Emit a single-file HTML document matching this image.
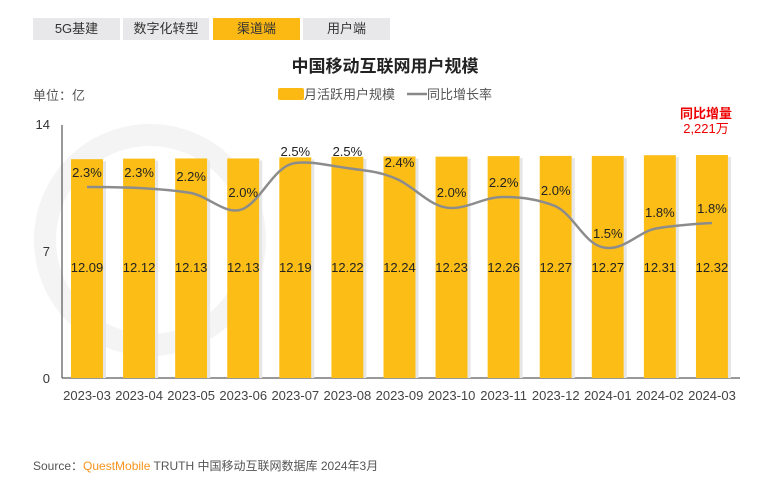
<!DOCTYPE html>
<html><head><meta charset="utf-8"><style>
body{margin:0;background:#fff;width:770px;height:481px;overflow:hidden;font-family:"Liberation Sans","Noto Sans CJK SC",sans-serif;}
.tab{position:absolute;top:18px;height:22px;background:#e8e8ea;font-size:13px;color:#333;text-align:center;line-height:22px;}
</style></head><body>
<div class="tab" style="left:33px;width:87px">5G基建</div>
<div class="tab" style="left:123px;width:86px">数字化转型</div>
<div class="tab" style="left:213px;width:87px;background:#fcb914">渠道端</div>
<div class="tab" style="left:303px;width:87px">用户端</div>
<svg width="770" height="481" style="position:absolute;left:0;top:0" font-family="Liberation Sans, Noto Sans CJK SC, sans-serif">
<circle cx="150" cy="240" r="105" fill="none" stroke="#f4f4f4" stroke-width="22"/>
<text x="385" y="72" font-size="17" text-anchor="middle" fill="#222" font-weight="bold">中国移动互联网用户规模</text>
<text x="33" y="100" font-size="13" fill="#555">单位：亿</text>
<rect x="278" y="88" width="26" height="12" rx="2" fill="#fcb914"/>
<text x="304" y="99" font-size="13" fill="#555">月活跃用户规模</text>
<line x1="407" y1="94" x2="427" y2="94" stroke="#888" stroke-width="2.5"/>
<text x="427" y="99" font-size="13" fill="#555">同比增长率</text>
<text x="706" y="118" font-size="13" fill="#e00" text-anchor="middle" font-weight="bold">同比增量</text>
<text x="706" y="133" font-size="13" fill="#e00" text-anchor="middle">2,221万</text>
<g font-size="13" fill="#333" text-anchor="end">
<text x="50" y="129">14</text><text x="50" y="256">7</text><text x="50" y="383">0</text></g>
<line x1="62" y1="125" x2="62" y2="378" stroke="#333"/>
<line x1="62" y1="378" x2="740" y2="378" stroke="#333"/>
<g id="bars"></g>
<path d="M87,187 C104,187 118,187 139,188 C157,189 173,190 191,193 C210,197 226,216 243,209 C262,200 274,166 295,163 C313,161 330,166 347,168 C366,171 380,171 399,180 C418,190 432,208 451,208 C470,208 484,197 503,197 C521,197 537,199 555,206 C575,215 585,247 607,248 C627,249 640,230 659,228 C678,225 696,224 712,223" fill="none" stroke="#8c8c8c" stroke-width="2.5"/>
<g font-size="13" fill="#222" text-anchor="middle" id="lbl"></g>
<text x="33" y="470" font-size="12" fill="#555">Source：<tspan fill="#f7941d">QuestMobile</tspan> TRUTH 中国移动互联网数据库 2024年3月</text>
</svg>
<script>
var v=[12.09,12.12,12.13,12.13,12.19,12.22,12.24,12.23,12.26,12.27,12.27,12.31,12.32];
var p=["2.3%","2.3%","2.2%","2.0%","2.5%","2.5%","2.4%","2.0%","2.2%","2.0%","1.5%","1.8%","1.8%"];
var py=[177,177,181,197,156,156,167,197,187,195,238,217,213];
var m=["2023-03","2023-04","2023-05","2023-06","2023-07","2023-08","2023-09","2023-10","2023-11","2023-12","2024-01","2024-02","2024-03"];
var b="",l="";
for(var i=0;i<13;i++){var cx=87+i*52.08,h=v[i]*18.1;
b+='<rect x="'+(cx-16)+'" y="'+(378-h)+'" width="32" height="'+h+'" fill="#fcbe16"/><rect x="'+(cx+16)+'" y="'+(378-h+2)+'" width="3" height="'+(h-2)+'" fill="#e6e6e6"/>';
l+='<text x="'+cx+'" y="272">'+v[i].toFixed(2)+'</text><text x="'+cx+'" y="'+py[i]+'">'+p[i]+'</text><text x="'+cx+'" y="400" fill="#444">'+m[i]+'</text>';}
document.getElementById("bars").innerHTML=b;document.getElementById("lbl").innerHTML=l;
</script>
</body></html>
